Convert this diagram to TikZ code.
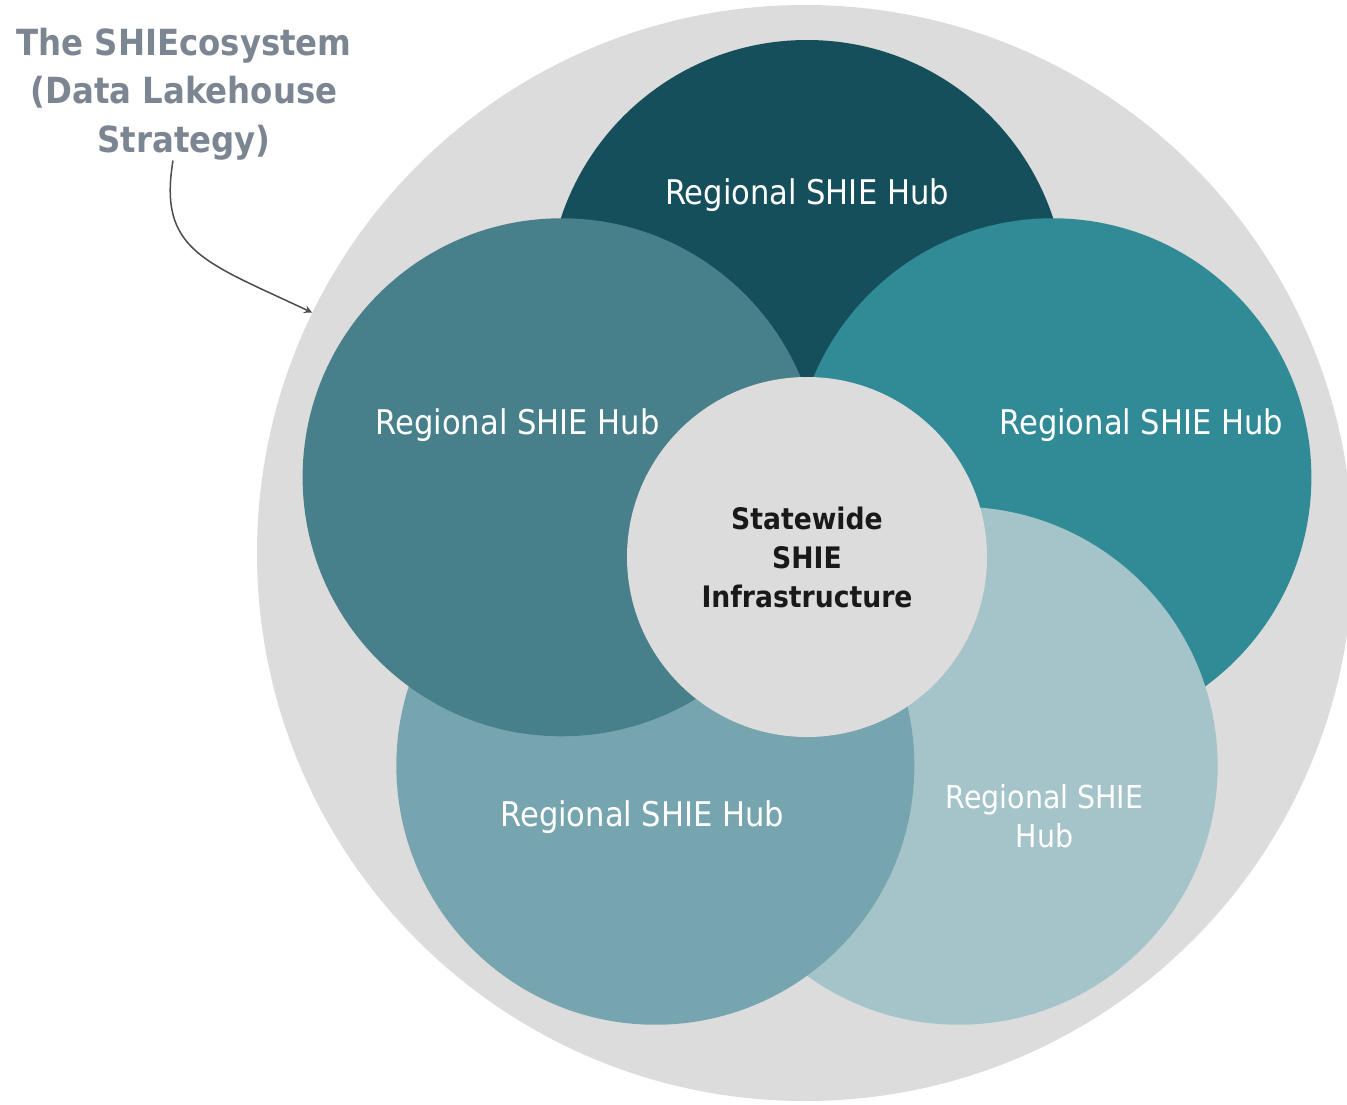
\documentclass[tikz,border=0pt]{standalone}
\usepackage{fontspec}
\setmainfont{DejaVu Sans Condensed}
\usetikzlibrary{positioning,calc}

\definecolor{ecoGrey}{HTML}{DCDCDC}
\definecolor{titleGrey}{HTML}{7C8692}
\definecolor{hubTop}{HTML}{164F5C}
\definecolor{hubLeft}{HTML}{477F8B}
\definecolor{hubRight}{HTML}{318B97}
\definecolor{hubLowLeft}{HTML}{77A5AF}
\definecolor{hubLowRight}{HTML}{A5C4C9}

\tikzset{
  eco/.style={circle,fill=ecoGrey,minimum size=548pt,inner sep=0pt},
  hub/.style={circle,minimum size=259pt,inner sep=0pt},
  hubtext/.style={text=white,font=\fontsize{17}{19.5}\selectfont,align=center},
  coretext/.style={text=black!90,font=\bfseries\fontsize{14.8}{19.5}\selectfont,align=center},
}

\begin{document}
\begin{tikzpicture}[x=0.5pt,y=0.5pt]
    % ring of hubs around the statewide core
    \pgfmathsetmacro{\Rring}{258}
    \useasboundingbox (-807,-547) rectangle (540,557);

    \coordinate (centro) at (0,0);
    \node[eco] (eco) at (-2,4) {};
    \foreach \ang/\col/\nm in {90/hubTop/top,18/hubRight/right,306/hubLowRight/lowright,234/hubLowLeft/lowleft,162/hubLeft/left}
      \node[hub,fill=\col] (\nm) at (\ang:\Rring) {};
    \node[eco,minimum size=180pt] (core) at (centro) {};

    % labels
    \node[hubtext] (topLab) at ($(top)+(0,104)$) {Regional SHIE Hub};
    \node[hubtext] (leftLab) at ($(left)+(-44,52)$) {Regional SHIE Hub};
    \node[hubtext] (rightLab) at ($(right)+(89,52)$) {Regional SHIE Hub};
    \node[hubtext] (lowleftLab) at ($(lowleft)+(-13,-51)$) {Regional SHIE Hub};
    \node[hubtext,font=\fontsize{15.8}{19.5}\selectfont] (lowrightLab) at ($(lowright)+(86,-50)$) {Regional SHIE\\Hub};
    \node[coretext] (coreLab) at (core) {Statewide\\SHIE\\Infrastructure};

    \node[text=titleGrey,font=\bfseries\fontsize{18}{24.3}\selectfont,align=center,inner sep=0pt]
      (title) at (-623,463) {The SHIEcosystem\\(Data Lakehouse\\Strategy)};
    \draw[-stealth,line width=0.75pt,black!70] ([xshift=-5.5pt]title.south)
      .. controls +(-15,-90) and +(-108,51) .. (eco.154);
\end{tikzpicture}
\end{document}
